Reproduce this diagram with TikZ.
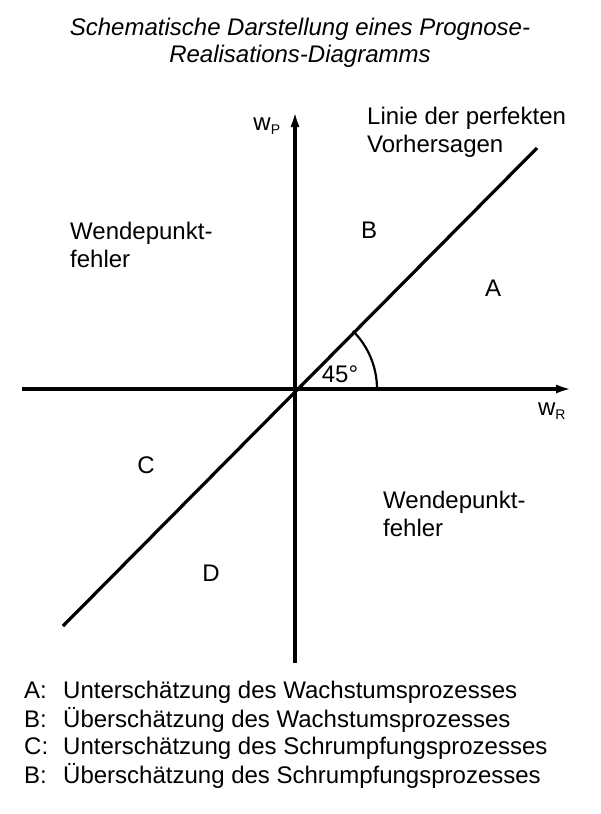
\documentclass[tikz,border=0pt]{standalone}
\usepackage{fontspec}
\setmainfont{Liberation Sans}
\usetikzlibrary{arrows.meta}
\newcommand{\legkey}[1]{\makebox[39pt][l]{#1}}
\begin{document}
\begin{tikzpicture}[x=1pt, y=-1pt,
    axis/.style={line width=3.2pt, -{Latex[length=16pt, width=9pt]}},
    perfect/.style={line width=3.2pt},
    angle arc/.style={line width=2.2pt},
    label text/.style={font=\fontsize{24}{28}\selectfont, inner sep=0pt},
    title text/.style={font=\fontsize{24}{27}\selectfont\itshape, inner sep=0pt, align=center},
    legend text/.style={font=\fontsize{24}{28}\selectfont, inner sep=0pt, anchor=west, align=left}]

  \useasboundingbox (0,0) rectangle (600,814);

  % === Title ===
  \node[title text] (title) at (300,43)
    {Schematische Darstellung eines Prognose-\\Realisations-Diagramms};

  % === Axes and line of perfect forecasts ===
  \coordinate (origin) at (295,389);
  \coordinate (ybottom) at (295,663);
  \coordinate (ytop) at (295,111);
  \coordinate (xleft) at (22,389);
  \coordinate (xright) at (572,389);
  \coordinate (lowend) at (63,626);
  \coordinate (highend) at (537,148);

  \draw[axis] (ybottom) -- (ytop);
  \draw[axis] (xleft) -- (xright);
  \draw[perfect] (lowend) -- (highend);

  % 45 degree arc between w_R axis and the diagonal
  \draw[angle arc] (377,389) arc[start angle=0, end angle=-45, radius=82];

  % === Labels ===
  \node[label text] (wp) at (267,126) {w\textsubscript{\fontsize{14}{14}\selectfont P}};
  \node[label text] (wr) at (552,411) {w\textsubscript{\fontsize{14}{14}\selectfont R}};
  \node[label text] (angle) at (340,374) {45°};

  \node[label text, anchor=west, align=left] (linie) at (367,132)
    {Linie der perfekten\\Vorhersagen};
  \node[label text, anchor=west, align=left] (wendeA) at (70,245)
    {Wendepunkt-\\fehler};
  \node[label text, anchor=west, align=left] (wendeB) at (383,514)
    {Wendepunkt-\\fehler};

  \node[label text] (regB) at (369,230) {B};
  \node[label text] (regA) at (493,288) {A};
  \node[label text] (regC) at (146,465) {C};
  \node[label text] (regD) at (211,573) {D};

  % === Legend ===
  \node[legend text] (leg1) at (24,692) {\legkey{A:}Unterschätzung des Wachstumsprozesses};
  \node[legend text] (leg2) at (24,720) {\legkey{B:}Überschätzung des Wachstumsprozesses};
  \node[legend text] (leg3) at (24,748) {\legkey{C:}Unterschätzung des Schrumpfungsprozesses};
  \node[legend text] (leg4) at (24,776) {\legkey{B:}Überschätzung des Schrumpfungsprozesses};

\end{tikzpicture}
\end{document}
